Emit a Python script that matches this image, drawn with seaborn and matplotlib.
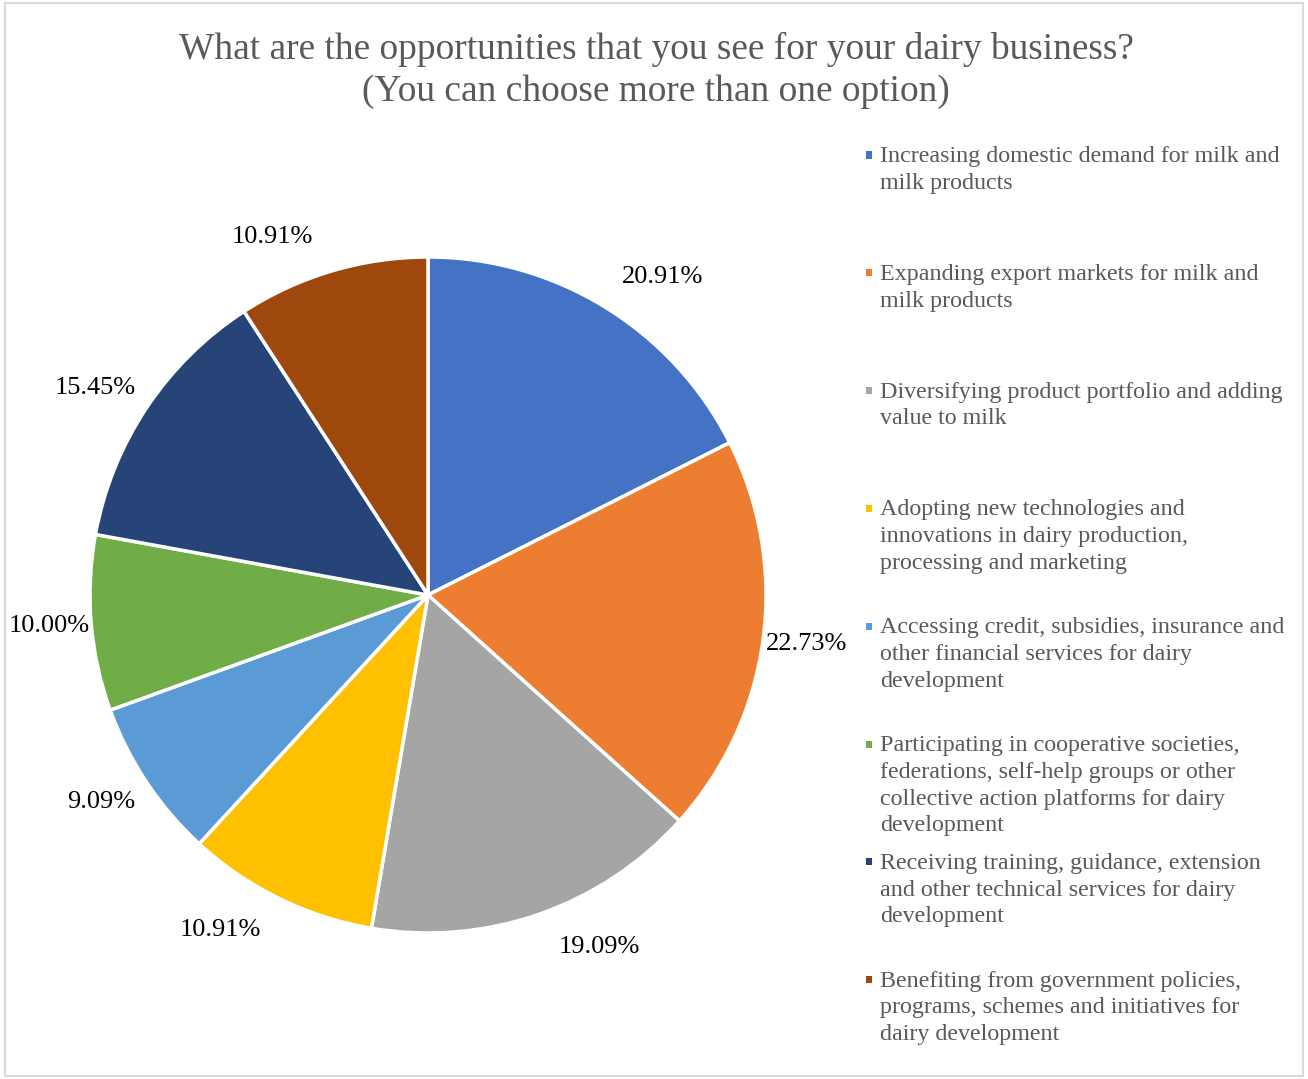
import matplotlib
matplotlib.use("Agg")
import matplotlib.pyplot as plt
from matplotlib.patches import Rectangle
import numpy as np
import seaborn as sns

# Survey responses: share of respondents choosing each opportunity (multiple choice)
categories = [
    "Increasing domestic demand for milk and\nmilk products",
    "Expanding export markets for milk and\nmilk products",
    "Diversifying product portfolio and adding\nvalue to milk",
    "Adopting new technologies and\ninnovations in dairy production,\nprocessing and marketing",
    "Accessing credit, subsidies, insurance and\nother financial services for dairy\ndevelopment",
    "Participating in cooperative societies,\nfederations, self-help groups or other\ncollective action platforms for dairy\ndevelopment",
    "Receiving training, guidance, extension\nand other technical services for dairy\ndevelopment",
    "Benefiting from government policies,\nprograms, schemes and initiatives for\ndairy development",
]
values = [20.91, 22.73, 19.09, 10.91, 9.09, 10.00, 15.45, 10.91]
colors = ["#4472C4", "#ED7D31", "#A5A5A5", "#FFC000",
          "#5B9BD5", "#70AD47", "#264478", "#9E480E"]
title = ("What are the opportunities that you see for your dairy business?\n"
         "(You can choose more than one option)")

sns.set_theme(style="white")
palette = sns.color_palette(colors)
plt.rcParams["font.family"] = ["Liberation Serif", "DejaVu Serif"]

W, H = 1308, 1079
fig = plt.figure(figsize=(W / 100, H / 100), dpi=100)
fig.patch.set_facecolor("white")

# outer chart border
fig.patches.append(Rectangle((5 / W, 3 / H), 1298 / W, 1073 / H,
                             transform=fig.transFigure, fill=False,
                             edgecolor="#D9D9D9", linewidth=1.5))

# pie axes: centre (428, 595) px, radius 338 px
cx, cy, r = 428, 595, 338
ax = fig.add_axes([(cx - r) / W, (H - cy - r) / H, 2 * r / W, 2 * r / H])
wedges, _ = ax.pie(values, colors=palette, startangle=90, counterclock=False,
                   radius=1.0,
                   wedgeprops=dict(edgecolor="white", linewidth=2.5))
ax.set_xlim(-1, 1)
ax.set_ylim(-1, 1)
ax.set_aspect("equal")
ax.axis("off")

# value labels: anchored on the rim at each wedge's mid-angle,
# pushed outward so the text box sits just clear of the pie
px2pt = 72 / 100
for w, v in zip(wedges, values):
    ang = np.deg2rad((w.theta1 + w.theta2) / 2)
    c, s = np.cos(ang), np.sin(ang)
    side = 1 if c >= 0 else -1
    dx = side * 20 * abs(s) * px2pt
    dy = 35 * s * px2pt
    ax.annotate(f"{v:.2f}%", xy=(c, s), xytext=(dx, dy),
                textcoords="offset points",
                ha="left" if side > 0 else "right", va="center",
                fontsize=19, color="black", annotation_clip=False)

fig.text(656 / W, 1 - 70 / H, title, ha="center", va="center",
         fontsize=26.9, color="#595959", linespacing=1.28)

# legend on the right
x_mark, x_text = 869, 880
y0, step = 155, 117.8
for i, (lab, col) in enumerate(zip(categories, palette)):
    y = y0 + i * step
    fig.patches.append(Rectangle(((x_mark - 3.5) / W, 1 - (y + 3.5) / H),
                                 7 / W, 7 / H, transform=fig.transFigure,
                                 facecolor=col, edgecolor="none"))
    fig.text(x_text / W, 1 - (y - 9) / H, lab, ha="left", va="top",
             fontsize=17.3, color="#595959", linespacing=1.36)

fig.savefig("out.png", dpi=100, facecolor="white")
